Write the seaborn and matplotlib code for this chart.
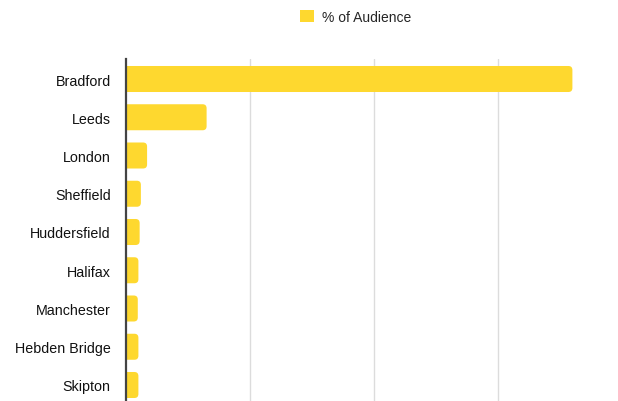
import matplotlib
matplotlib.use("Agg")
import matplotlib.pyplot as plt
import seaborn as sns
import pandas as pd
from matplotlib.patches import Patch, FancyBboxPatch

cities = ["Bradford", "Leeds", "London", "Sheffield", "Huddersfield",
          "Halifax", "Manchester", "Hebden Bridge", "Skipton"]
audience = [36.0, 6.5, 1.7, 1.2, 1.1, 1.0, 0.95, 1.0, 1.0]
series_name = "% of Audience"

df = pd.DataFrame({"city": cities, "value": audience})

sns.set_style("white")
plt.rcParams["font.family"] = ["Liberation Sans", "DejaVu Sans"]

color = "#FED82F"
fig = plt.figure(figsize=(6.18, 4.02), dpi=100)
ax = fig.add_axes([126/618, 0, (612-126)/618, (402-60)/402])

sns.barplot(data=df, x="value", y="city", color=color, width=0.68,
            saturation=1, ax=ax, orient="h")

xmax = 486/12.4
ax.set_xlim(0, xmax)
ax.set_ylim(8 + 16/38.25, -20/38.25)

# round the bar corners (geometry taken from seaborn's bars)
px_x = 1/12.4
px_y = 1/38.25
r = 4 * px_x
for p in list(ax.patches):
    x0, y0, w, h = p.get_x(), p.get_y(), p.get_width(), p.get_height()
    fb = FancyBboxPatch((x0 - r, y0), w + r, h,
                        boxstyle=f"round,pad=0,rounding_size={r}",
                        mutation_aspect=px_y/px_x,
                        facecolor=color, edgecolor="none", zorder=p.get_zorder())
    p.set_visible(False)
    ax.add_patch(fb)

ax.set_xticks([10, 20, 30])
ax.set_xticklabels([])
ax.grid(axis="x", color="#DCDCDC", linewidth=1)
ax.set_axisbelow(True)
for s in ["top", "right", "bottom"]:
    ax.spines[s].set_visible(False)
ax.spines["left"].set_color("#444444")
ax.spines["left"].set_linewidth(1.6)
ax.spines["left"].set_zorder(5)
ax.tick_params(axis="y", length=0, pad=11, labelsize=10.3, labelcolor="#111111")
ax.tick_params(axis="x", length=0)
ax.set_xlabel("")
ax.set_ylabel("")

fig.legend(handles=[Patch(facecolor=color, edgecolor="none", label=series_name)],
           loc="center", bbox_to_anchor=(356/618, 1 - 18/402), frameon=False,
           fontsize=10, handlelength=1.0, handleheight=1.0, handletextpad=0.6)

fig.savefig("out.png", dpi=100)
